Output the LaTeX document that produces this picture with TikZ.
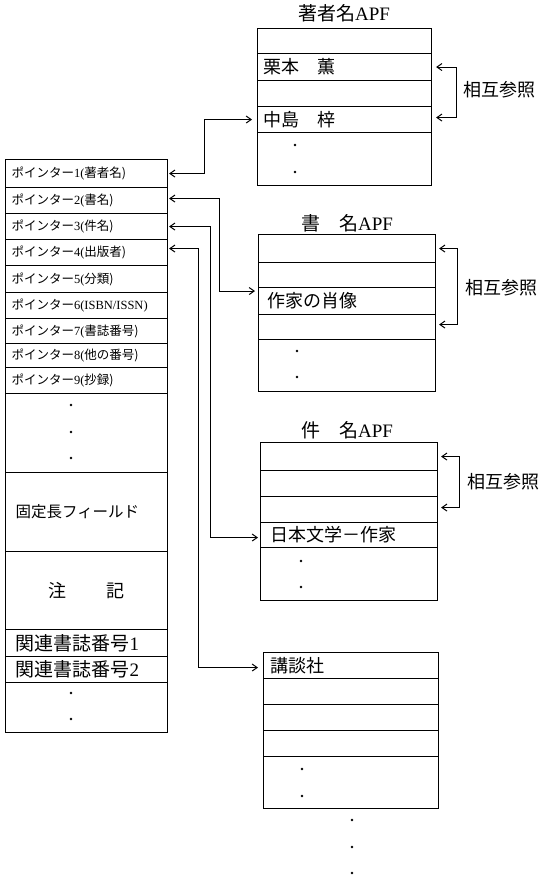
\documentclass[tikz,border=0pt]{standalone}
\usepackage{fontspec}
\setmainfont{Liberation Serif}
\newfontfamily\J{Noto Sans CJK JP}
\usetikzlibrary{arrows.meta}
\newcommand\ptr[2]{{\J ポインター}#1(#2)}
\begin{document}
\begin{tikzpicture}[x=1pt,y=-1pt, line width=1.1pt,
  cell/.style={draw, anchor=north west, inner xsep=6pt, inner ysep=0pt, align=left},
  lcell/.style={cell, text width=150pt, font=\fontsize{12.5}{13}\selectfont},
  link/.style={{Straight Barb[length=5pt,width=7pt]}-{Straight Barb[length=5pt,width=7pt]}, line width=1pt},
  big/.style={font=\fontsize{18}{20}\selectfont},
  ttl/.style={font=\fontsize{19}{20}\selectfont},
  xref/.style={anchor=west, inner sep=0pt, font=\fontsize{18}{20}\selectfont}
]
\useasboundingbox (0,0) rectangle (542,877);
% left record
\node[lcell, minimum height=28pt] (p1) at (5,159) {\ptr{1}{\J 著者名}};
\node[lcell, minimum height=26pt] (p2) at (5,187) {\ptr{2}{\J 書名}};
\node[lcell, minimum height=26pt] (p3) at (5,213) {\ptr{3}{\J 件名}};
\node[lcell, minimum height=26pt] (p4) at (5,239) {\ptr{4}{\J 出版者}};
\node[lcell, minimum height=27pt] (p5) at (5,265) {\ptr{5}{\J 分類}};
\node[lcell, minimum height=26pt] (p6) at (5,292) {\ptr{6}{ISBN/ISSN}};
\node[lcell, minimum height=25pt] (p7) at (5,318) {\ptr{7}{\J 書誌番号}};
\node[lcell, minimum height=24pt] (p8) at (5,343) {\ptr{8}{\J 他の番号}};
\node[lcell, minimum height=26pt] (p9) at (5,367) {\ptr{9}{\J 抄録}};
\node[lcell, minimum height=79pt] (pd) at (5,393) {};
\node[cell, text width=142pt, inner xsep=10pt, minimum height=79pt, font=\fontsize{15.5}{16}\selectfont\J] (fix) at (5,472) {固定長フィールド};
\node[cell, text width=150pt, align=center, minimum height=78pt, font=\fontsize{18}{20}\selectfont\J] (note) at (5,551) {注\hspace{40pt}記};
\node[cell, text width=142pt, inner xsep=10pt, minimum height=27pt, font=\fontsize{19}{20}\selectfont] (r1) at (5,629) {{\J 関連書誌番号}1};
\node[cell, text width=142pt, inner xsep=10pt, minimum height=26pt, font=\fontsize{19}{20}\selectfont] (r2) at (5,656) {{\J 関連書誌番号}2};
\node[lcell, minimum height=50pt] (rd) at (5,682) {};
\foreach \y in {405,432,458,693,719} \fill (71,\y) circle (1.3pt);
% author APF
\node[ttl] (ta) at (344,13) {{\J 著者名}APF};
\node[cell, text width=162pt, minimum height=25pt] (a0) at (257,28) {};
\node[cell, text width=162pt, minimum height=27pt, big] (a1) at (257,53) {\J 栗本　薫};
\node[cell, text width=162pt, minimum height=26pt] (a2) at (257,80) {};
\node[cell, text width=162pt, minimum height=26pt, big] (a3) at (257,106) {\J 中島　梓};
\node[cell, text width=162pt, minimum height=53pt] (a4) at (257,132) {};
\foreach \y in {145,172} \fill (295,\y) circle (1.3pt);
% title APF
\node[ttl] (tb) at (347,223) {{\J 書　名}APF};
\node[cell, text width=165pt, minimum height=28pt] (b0) at (258,234) {};
\node[cell, text width=165pt, minimum height=25pt] (b1) at (258,262) {};
\node[cell, text width=159pt, inner xsep=9pt, minimum height=27pt, big] (b2) at (258,287) {\J 作家の肖像};
\node[cell, text width=165pt, minimum height=25pt] (b3) at (258,314) {};
\node[cell, text width=165pt, minimum height=52pt] (b4) at (258,339) {};
\foreach \y in {351,377} \fill (297,\y) circle (1.3pt);
% subject APF
\node[ttl] (tc) at (347,430) {{\J 件　名}APF};
\node[cell, text width=165pt, minimum height=28pt] (c0) at (260,442) {};
\node[cell, text width=165pt, minimum height=26pt] (c1) at (260,470) {};
\node[cell, text width=165pt, minimum height=26pt] (c2) at (260,496) {};
\node[cell, text width=157pt, inner xsep=10pt, minimum height=25pt, big] (c3) at (260,522) {\J 日本文学－作家};
\node[cell, text width=165pt, minimum height=53pt] (c4) at (260,547) {};
\foreach \y in {561,587} \fill (301,\y) circle (1.3pt);
% publisher APF
\node[cell, text width=161pt, inner xsep=7pt, minimum height=26pt, big] (d0) at (263,652) {\J 講談社};
\node[cell, text width=163pt, minimum height=26pt] (d1) at (263,678) {};
\node[cell, text width=163pt, minimum height=26pt] (d2) at (263,704) {};
\node[cell, text width=163pt, minimum height=26pt] (d3) at (263,730) {};
\node[cell, text width=163pt, minimum height=52pt] (d4) at (263,756) {};
\foreach \y in {769,796} \fill (302,\y) circle (1.3pt);
\foreach \y in {820,847,873} \fill (352,\y) circle (1.3pt);
% pointer links
\draw[link, shorten <=1pt, shorten >=5pt] (p1.east) -- ++(36,0) |- (a3.west);
\draw[link, shorten <=1pt, shorten >=3pt] ([yshift=2pt]p2.east) -- ++(51,0) |- ([yshift=10pt]b2.west);
\draw[link, shorten <=1pt, shorten >=2pt] (p3.east) -- ++(42,0) |- ([yshift=-2.5pt]c3.west);
\draw[link, shorten <=1pt, shorten >=5pt] ([yshift=4pt]p4.east) -- ++(30,0) |- ([yshift=-2pt]d0.west);
% cross references
\draw[link, shorten <=4pt, shorten >=4pt] (a1.east) -- ++(24,0) |- ([yshift=2pt]a3.east);
\node[xref] (xa) at (463,90) {\J 相互参照};
\draw[link, shorten <=3pt, shorten >=3pt] (b0.east) -- ++(21,0) |- ([yshift=2.5pt]b3.east);
\node[xref] (xb) at (465,288) {\J 相互参照};
\draw[link, shorten <=3pt, shorten >=3pt] (c0.east) -- ++(21,0) |- ([yshift=2pt]c2.east);
\node[xref] (xc) at (467,482) {\J 相互参照};
\end{tikzpicture}
\end{document}
